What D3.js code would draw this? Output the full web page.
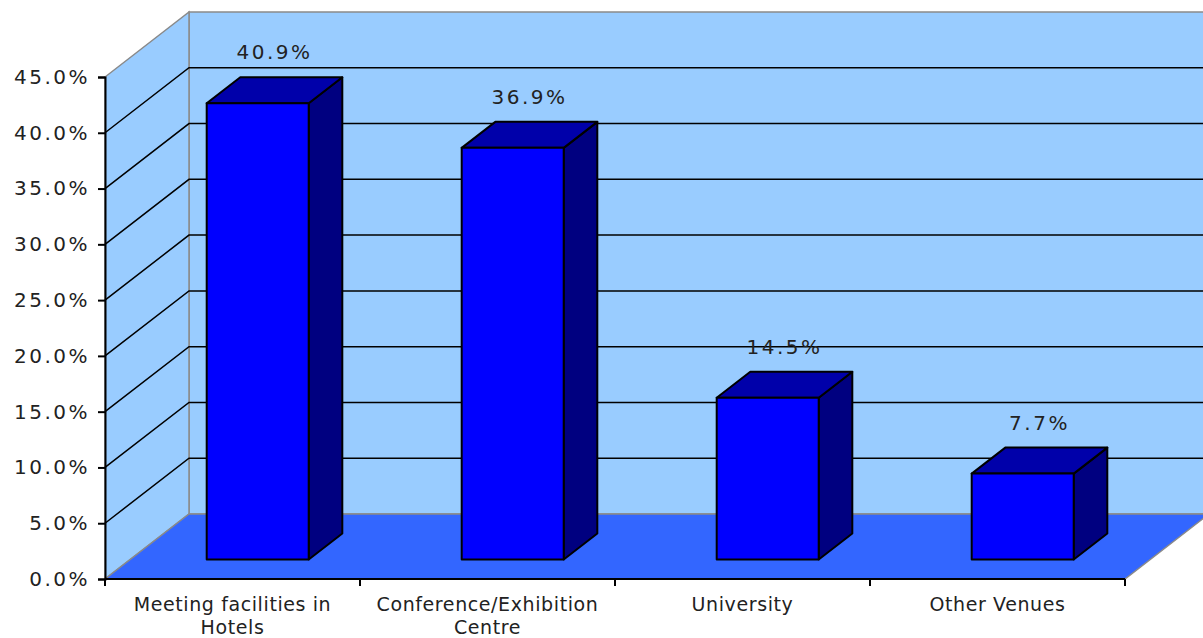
<!DOCTYPE html>
<html>
<head>
<meta charset="utf-8">
<script src="https://cdn.jsdelivr.net/npm/d3@7"></script>
<style>
  html, body { margin: 0; padding: 0; background: #fff; }
  svg { display: block; }
</style>
</head>
<body>
<div id="chart"></div>
<script>
// Venue shares.
const categories = [
  ['Meeting facilities in', 'Hotels'],
  ['Conference/Exhibition', 'Centre'],
  ['University'],
  ['Other Venues']
];
const values = [40.9, 36.9, 14.5, 7.7];
const yTicks = [0, 5, 10, 15, 20, 25, 30, 35, 40, 45];

const width = 1203, height = 638;
const margin = { left: 105, right: 78, top: 77, bottom: 59 };

// oblique depth of the whole floor, and where the bars sit in it
const depth = { dx: 84, dy: -65 };
const barZ0 = 0.3, barZ = 0.4, barWidth = 0.4;

const font = '"DejaVu Sans", Verdana, sans-serif';

const svg = d3.select('#chart').append('svg')
  .attr('width', width)
  .attr('height', height);

const names = categories.map(c => c.join(' '));

const x = d3.scaleBand()
  .domain(names)
  .range([margin.left, width - margin.right])
  .padding(0);

const y = d3.scaleLinear()
  .domain([0, 45])
  .range([height - margin.bottom, margin.top]);

const x0 = x.range()[0], x1 = x.range()[1];
const yBase = y(0), yTop = y(45);

// project a point on the front plane back by fraction z of the depth
const proj = (px, py, z) => [px + z * depth.dx, py + z * depth.dy];
const poly = pts => pts.map(p => p.join(',')).join(' ');

// walls and floor
svg.append('polygon')
  .attr('points', poly([proj(x0, yBase, 1), proj(x1, yBase, 1), proj(x1, yTop, 1), proj(x0, yTop, 1)]))
  .attr('fill', '#99ccff')
  .attr('stroke', '#8a8a8a')
  .attr('stroke-width', 1.5);

svg.append('polygon')
  .attr('points', poly([[x0, yBase], proj(x0, yBase, 1), proj(x0, yTop, 1), [x0, yTop]]))
  .attr('fill', '#99ccff')
  .attr('stroke', '#8a8a8a')
  .attr('stroke-width', 1.5);

// gridlines on side wall and back wall
const grid = svg.append('g')
  .attr('fill', 'none')
  .attr('stroke', '#000')
  .attr('stroke-width', 1.5);

grid.selectAll('path')
  .data(yTicks.filter(t => t > 0 && t < 45))
  .enter()
  .append('path')
  .attr('d', t => {
    const a = [x0, y(t)];
    const b = proj(x0, y(t), 1);
    const c = proj(x1, y(t), 1);
    return `M${a}L${b}L${c}`;
  });

svg.append('polygon')
  .attr('points', poly([[x0, yBase], [x1, yBase], proj(x1, yBase, 1), proj(x0, yBase, 1)]))
  .attr('fill', '#3366ff')
  .attr('stroke', '#8a8a8a')
  .attr('stroke-width', 1.5);

// bars
const bars = svg.append('g')
  .attr('stroke', '#000')
  .attr('stroke-width', 2)
  .attr('stroke-linejoin', 'round');

const bw = x.bandwidth() * barWidth;
const bdx = barZ * depth.dx, bdy = barZ * depth.dy;

const barGeom = (v, i) => {
  const [fx, fy] = proj(x(names[i]) + (x.bandwidth() - bw) / 2, 0, barZ0);
  const top = y(v) + fy, bottom = yBase + fy;
  return { l: fx, r: fx + bw, top, bottom };
};

const bar = bars.selectAll('g')
  .data(values)
  .enter()
  .append('g');

bar.append('polygon')
  .attr('fill', '#000080')
  .attr('points', (v, i) => {
    const g = barGeom(v, i);
    return poly([[g.r, g.top], [g.r + bdx, g.top + bdy], [g.r + bdx, g.bottom + bdy], [g.r, g.bottom]]);
  });

bar.append('polygon')
  .attr('fill', '#0000aa')
  .attr('points', (v, i) => {
    const g = barGeom(v, i);
    return poly([[g.l, g.top], [g.r, g.top], [g.r + bdx, g.top + bdy], [g.l + bdx, g.top + bdy]]);
  });

bar.append('rect')
  .attr('fill', '#0000ff')
  .attr('x', (v, i) => barGeom(v, i).l)
  .attr('y', (v, i) => barGeom(v, i).top)
  .attr('width', bw)
  .attr('height', (v, i) => barGeom(v, i).bottom - barGeom(v, i).top);

// value labels
svg.append('g')
  .selectAll('text')
  .data(values)
  .enter()
  .append('text')
  .attr('x', (v, i) => barGeom(v, i).l + bw / 2 + bdx / 2)
  .attr('y', (v, i) => barGeom(v, i).top - 44)
  .attr('text-anchor', 'middle')
  .attr('font-family', font)
  .attr('font-size', '20px')
  .attr('letter-spacing', '2.5px')
  .attr('fill', '#222')
  .text(v => v.toFixed(1) + '%');

// y axis
const yAxis = d3.axisLeft(y)
  .tickValues(yTicks)
  .tickSize(7)
  .tickPadding(8)
  .tickFormat(d => d.toFixed(1) + '%');

const yG = svg.append('g')
  .attr('transform', `translate(${x0},0)`)
  .call(yAxis);

yG.select('.domain').attr('stroke-width', 2);
yG.selectAll('.tick line').attr('stroke-width', 2);
yG.selectAll('text')
  .attr('font-family', font)
  .attr('font-size', '20px')
  .attr('letter-spacing', '2.5px')
  .attr('fill', '#222');

// x axis
const xG = svg.append('g');

xG.append('line')
  .attr('x1', x0).attr('x2', x1)
  .attr('y1', yBase).attr('y2', yBase)
  .attr('stroke', '#000')
  .attr('stroke-width', 2);

xG.selectAll('.xtick')
  .data(names.map(n => x(n)).concat([x1]))
  .enter()
  .append('line')
  .attr('x1', d => d).attr('x2', d => d)
  .attr('y1', yBase).attr('y2', yBase + 7)
  .attr('stroke', '#000')
  .attr('stroke-width', 2);

const xLabel = xG.selectAll('.xlabel')
  .data(categories)
  .enter()
  .append('text')
  .attr('text-anchor', 'middle')
  .attr('font-family', font)
  .attr('font-size', '19px')
  .attr('letter-spacing', '0.6px')
  .attr('fill', '#222');

xLabel.selectAll('tspan')
  .data((c, i) => c.map(line => ({ line, i })))
  .enter()
  .append('tspan')
  .attr('x', d => x(names[d.i]) + x.bandwidth() / 2)
  .attr('y', (d, j) => yBase + 32 + j * 23)
  .text(d => d.line);
</script>
</body>
</html>
